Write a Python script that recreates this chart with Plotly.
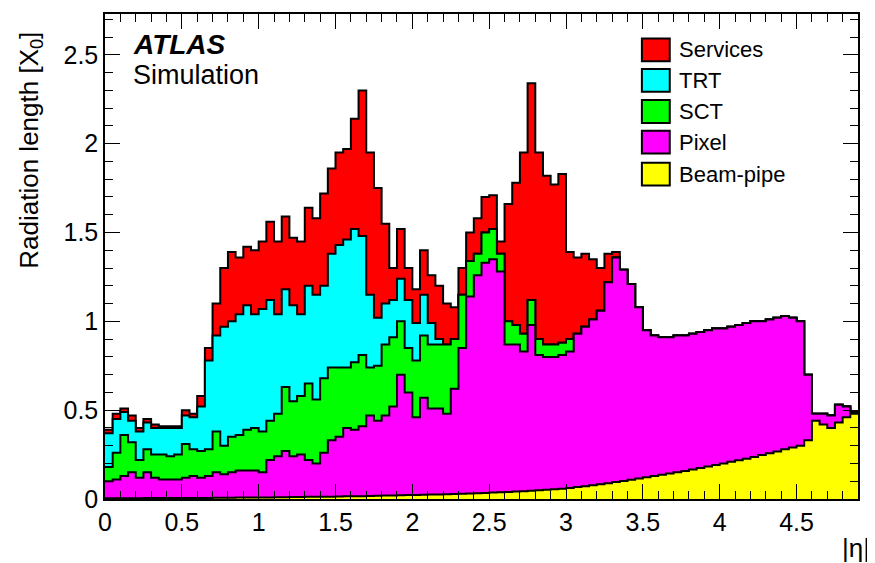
import numpy as np
import plotly.graph_objects as go

# |eta| bins of width 0.05 from 0 to 4.9; values are the cumulative (stacked) tops
bin_width = 0.05

top_services = [
    0.39, 0.48, 0.51, 0.47, 0.40, 0.45, 0.42, 0.41, 0.41, 0.41,
    0.50, 0.48, 0.58, 0.85, 1.10, 1.30, 1.39, 1.36, 1.42, 1.40,
    1.45, 1.56, 1.45, 1.59, 1.47, 1.45, 1.64, 1.58, 1.72, 1.86,
    1.95, 1.97, 2.14, 2.30, 1.95, 1.75, 1.55, 1.30, 1.52, 1.30,
    1.18, 1.40, 1.26, 1.20, 1.10, 1.08, 1.30, 1.50, 1.58, 1.70,
    1.71, 1.45, 1.66, 1.78, 1.95, 2.34, 1.95, 1.82, 1.77, 1.83,
    1.39, 1.36, 1.38, 1.35, 1.30, 1.38, 1.39, 1.29, 1.21, 1.08,
    0.95, 0.92, 0.91, 0.91, 0.92, 0.92, 0.93, 0.94, 0.95, 0.96,
    0.96, 0.97, 0.98, 0.99, 1.00, 1.00, 1.01, 1.02, 1.03, 1.02,
    1.00, 0.70, 0.48, 0.48, 0.47, 0.53, 0.52, 0.49,
]

top_trt = [
    0.37, 0.45, 0.49, 0.44, 0.38, 0.43, 0.40, 0.40, 0.40, 0.40,
    0.47, 0.46, 0.52, 0.78, 0.92, 0.97, 1.00, 1.04, 1.09, 1.04,
    1.07, 1.12, 1.04, 1.18, 1.09, 1.04, 1.20, 1.15, 1.20, 1.38,
    1.43, 1.46, 1.52, 1.48, 1.15, 1.02, 1.10, 1.12, 1.24, 1.12,
    0.99, 1.15, 0.99, 0.90, 0.87, 0.90, 1.15, 1.34, 1.38, 1.50,
    1.52, 1.38, 1.00, 0.98, 0.93, 1.12, 0.90, 0.87, 0.87, 0.88,
    0.90, 0.93, 0.97, 1.01, 1.06, 1.22, 1.36, 1.29, 1.21, 1.08,
    0.95, 0.92, 0.91, 0.91, 0.92, 0.92, 0.93, 0.94, 0.95, 0.96,
    0.96, 0.97, 0.98, 0.99, 1.00, 1.00, 1.01, 1.02, 1.03, 1.02,
    1.00, 0.70, 0.48, 0.48, 0.47, 0.53, 0.52, 0.49,
]

top_sct = [
    0.18, 0.26, 0.36, 0.32, 0.22, 0.28, 0.25, 0.25, 0.24, 0.25,
    0.31, 0.28, 0.27, 0.28, 0.38, 0.30, 0.35, 0.36, 0.39, 0.40,
    0.38, 0.44, 0.48, 0.63, 0.55, 0.58, 0.65, 0.56, 0.68, 0.74,
    0.74, 0.74, 0.77, 0.81, 0.74, 0.75, 0.87, 0.91, 1.00, 0.85,
    0.78, 0.92, 0.87, 0.87, 0.87, 0.90, 1.15, 1.34, 1.38, 1.50,
    1.52, 1.38, 1.00, 0.98, 0.93, 1.12, 0.90, 0.87, 0.87, 0.88,
    0.90, 0.93, 0.97, 1.01, 1.06, 1.22, 1.36, 1.29, 1.21, 1.08,
    0.95, 0.92, 0.91, 0.91, 0.92, 0.92, 0.93, 0.94, 0.95, 0.96,
    0.96, 0.97, 0.98, 0.99, 1.00, 1.00, 1.01, 1.02, 1.03, 1.02,
    1.00, 0.70, 0.48, 0.48, 0.47, 0.53, 0.52, 0.49,
]

top_pixel = [
    0.10, 0.11, 0.13, 0.15, 0.12, 0.15, 0.12, 0.11, 0.11, 0.11,
    0.12, 0.13, 0.12, 0.13, 0.15, 0.14, 0.15, 0.16, 0.16, 0.16,
    0.15, 0.22, 0.24, 0.27, 0.24, 0.25, 0.22, 0.20, 0.26, 0.33,
    0.35, 0.40, 0.39, 0.41, 0.47, 0.44, 0.47, 0.52, 0.70, 0.60,
    0.46, 0.57, 0.51, 0.51, 0.48, 0.62, 0.85, 1.14, 1.26, 1.33,
    1.35, 1.28, 0.87, 0.87, 0.83, 0.98, 0.81, 0.80, 0.80, 0.81,
    0.83, 0.93, 0.97, 1.01, 1.06, 1.22, 1.36, 1.29, 1.21, 1.08,
    0.95, 0.92, 0.91, 0.91, 0.92, 0.92, 0.93, 0.94, 0.95, 0.96,
    0.96, 0.97, 0.98, 0.99, 1.00, 1.00, 1.01, 1.02, 1.03, 1.02,
    1.00, 0.70, 0.48, 0.48, 0.47, 0.53, 0.52, 0.49,
]

top_beampipe = [
    0.004, 0.004, 0.004, 0.004, 0.004, 0.005, 0.005, 0.005, 0.005, 0.005,
    0.006, 0.006, 0.006, 0.006, 0.007, 0.007, 0.007, 0.008, 0.008, 0.008,
    0.009, 0.009, 0.010, 0.010, 0.011, 0.011, 0.012, 0.012, 0.013, 0.013,
    0.014, 0.015, 0.015, 0.016, 0.017, 0.018, 0.019, 0.020, 0.021, 0.022,
    0.023, 0.024, 0.025, 0.026, 0.027, 0.028, 0.030, 0.031, 0.033, 0.034,
    0.036, 0.038, 0.040, 0.042, 0.044, 0.046, 0.049, 0.052, 0.055, 0.058,
    0.062, 0.067, 0.072, 0.077, 0.083, 0.089, 0.095, 0.101, 0.108, 0.115,
    0.122, 0.129, 0.136, 0.143, 0.150, 0.158, 0.166, 0.174, 0.183, 0.192,
    0.200, 0.209, 0.218, 0.227, 0.237, 0.247, 0.257, 0.268, 0.280, 0.290,
    0.300, 0.330, 0.440, 0.420, 0.400, 0.430, 0.460, 0.480,
]

layer_names = ["Services", "TRT", "SCT", "Pixel", "Beam-pipe"]
layer_colors = ["#ff0000", "#00ffff", "#00ff00", "#ff00ff", "#ffff00"]
layer_tops = [top_services, top_trt, top_sct, top_pixel, top_beampipe]

n_bins = len(top_beampipe)
edges = np.round(np.arange(n_bins + 1) * bin_width, 4)
x_max = edges[-1]

FONT = "Liberation Sans, Arial, Helvetica, sans-serif"

fig = go.Figure()

# stacked histogram: draw the total first, then each lower cumulative layer over it
for name, vals, col in zip(layer_names, layer_tops, layer_colors):
    fig.add_trace(go.Scatter(
        x=edges, y=list(vals) + [vals[-1]],
        mode="lines",
        line=dict(shape="hv", color="black", width=2),
        fill="tozeroy", fillcolor=col,
        name=name, showlegend=False, hoverinfo="skip",
    ))

# empty trace so the mirrored top/right axes get drawn
fig.add_trace(go.Scatter(x=[None], y=[None], xaxis="x2", yaxis="y2",
                         mode="lines", showlegend=False, hoverinfo="skip"))

tick_style = dict(ticks="inside", ticklen=15, tickwidth=1, tickcolor="black",
                  showline=True, linecolor="black", linewidth=1.5,
                  showgrid=False, zeroline=False)
minor_x = dict(dtick=0.1, ticks="inside", ticklen=8, tickcolor="black")
minor_y = dict(dtick=0.1, ticks="inside", ticklen=8, tickcolor="black")

# the page body adds an 8px offset, margins compensate for it
fig.update_layout(
    width=875, height=563,
    margin=dict(l=97, r=25, t=6, b=72),
    paper_bgcolor="white", plot_bgcolor="white",
    font=dict(family=FONT, color="black"),
    xaxis=dict(range=[0, x_max], tick0=0, dtick=0.5, minor=minor_x,
               tickfont=dict(size=25), **tick_style),
    yaxis=dict(range=[0, 2.73], tick0=0, dtick=0.5, minor=minor_y,
               tickfont=dict(size=25), **tick_style),
    xaxis2=dict(range=[0, x_max], overlaying="x", side="top", anchor="y",
                tick0=0, dtick=0.5, showticklabels=False, minor=minor_x,
                **tick_style),
    yaxis2=dict(range=[0, 2.73], overlaying="y", side="right", anchor="x",
                tick0=0, dtick=0.5, showticklabels=False, minor=minor_y,
                **tick_style),
)

# axis titles ROOT style (aligned to the axis ends)
fig.add_annotation(text="Radiation length [X<sub>0</sub>]", textangle=-90,
                   xref="paper", yref="paper", x=-0.1, y=0.968,
                   xanchor="center", yanchor="top", showarrow=False,
                   font=dict(size=26))
fig.add_annotation(text="|η|", xref="paper", yref="paper", x=1.019, y=-0.101,
                   xanchor="right", yanchor="middle", showarrow=False,
                   font=dict(size=26))

# ATLAS label
fig.add_annotation(text="<b><i>ATLAS</i></b>", xref="paper", yref="paper",
                   x=0.034, y=0.937, xanchor="left", yanchor="middle",
                   showarrow=False, font=dict(size=28))
fig.add_annotation(text="Simulation", xref="paper", yref="paper",
                   x=0.034, y=0.875, xanchor="left", yanchor="middle",
                   showarrow=False, font=dict(size=27))

# legend boxes, ROOT TLegend look
leg_y = [0.926, 0.863, 0.799, 0.736, 0.670]
box_h = 0.047
for name, col, yc in zip(layer_names, layer_colors, leg_y):
    fig.add_shape(type="rect", xref="paper", yref="paper",
                  x0=0.713, x1=0.750, y0=yc - box_h / 2, y1=yc + box_h / 2,
                  fillcolor=col, line=dict(color="black", width=2))
    fig.add_annotation(text=name, xref="paper", yref="paper", x=0.759, y=yc,
                       xanchor="left", yanchor="middle", showarrow=False,
                       font=dict(size=22))

fig.write_html("out.html")
